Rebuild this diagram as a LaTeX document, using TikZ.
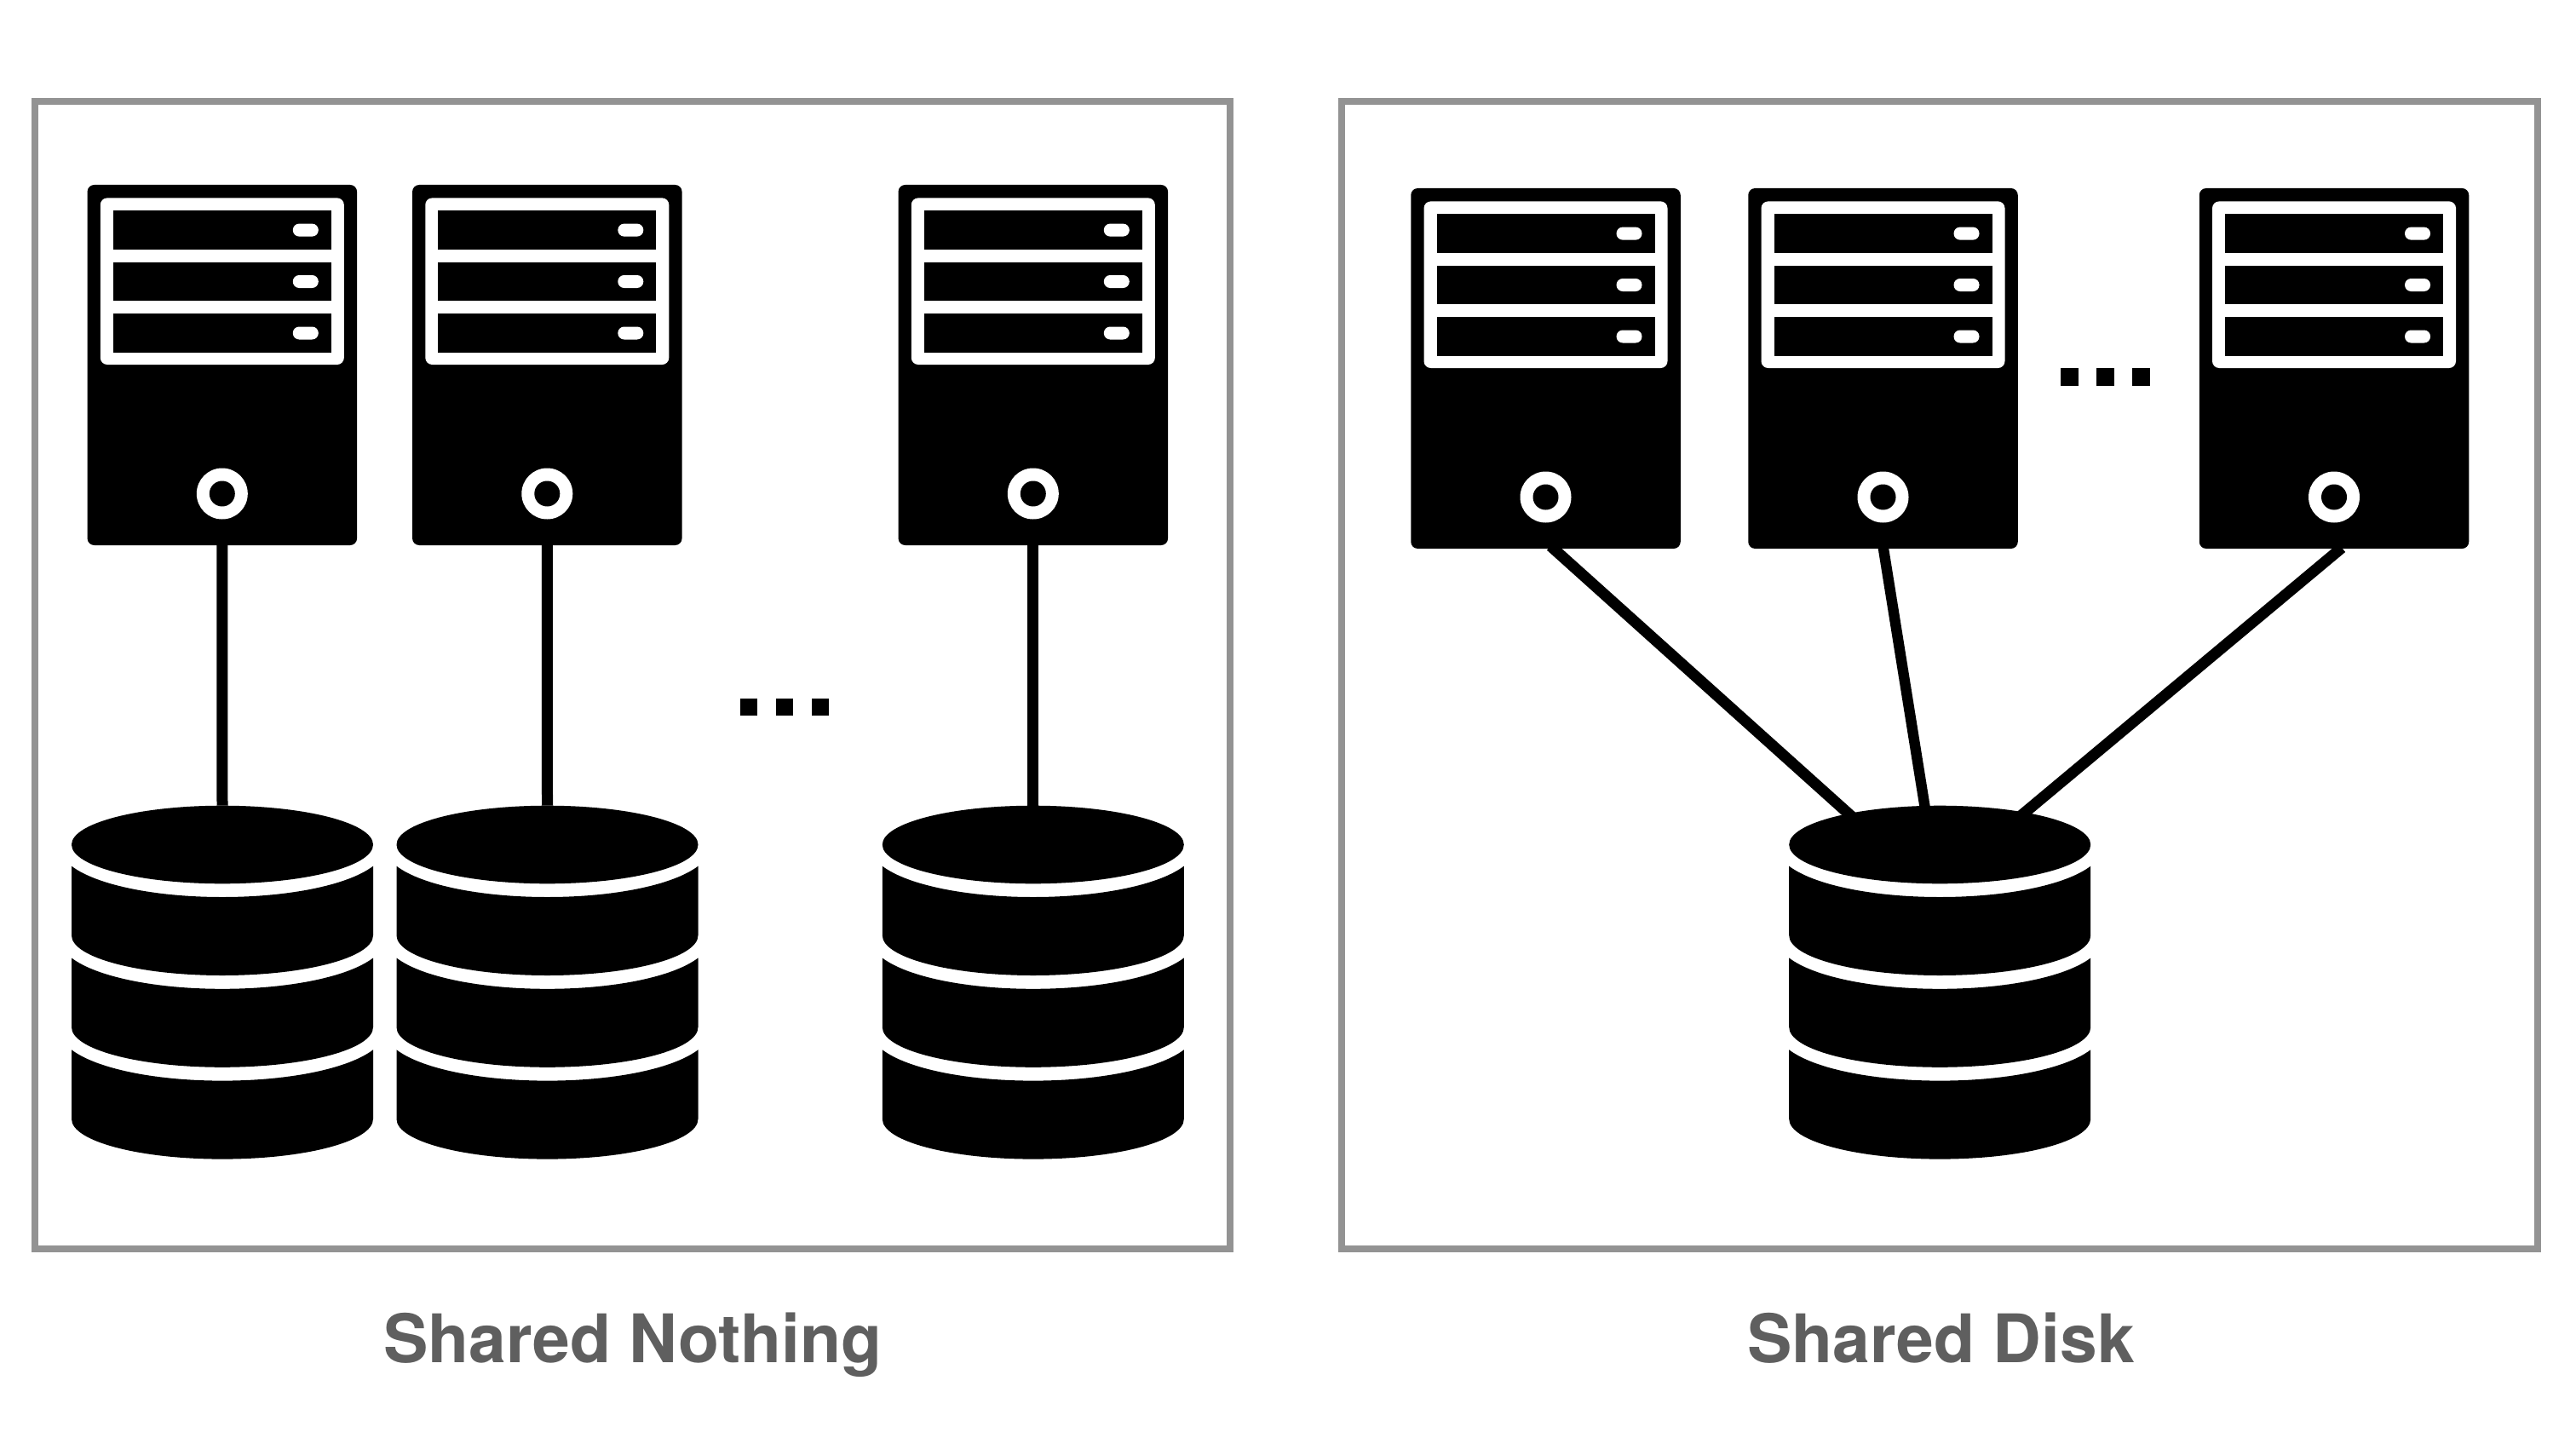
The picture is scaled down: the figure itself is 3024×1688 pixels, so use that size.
\documentclass[tikz,border=0pt]{standalone}
\usepackage{fontspec}
\setmainfont{TeX Gyre Heros}
\usetikzlibrary{calc,shapes.geometric}
\definecolor{framegray}{HTML}{939393}
\definecolor{titlegray}{HTML}{5F5F5F}
\newlength\pxu
\setlength\pxu{0.01cm}
\tikzset{
  frameline/.style={draw=framegray,line width=8\pxu,fill=none,inner sep=0pt,outer sep=0pt,minimum width=#1},
  serverbox/.style={fill=black,rounded corners=8\pxu,inner sep=0pt,outer sep=0pt,minimum width=316.5\pxu,minimum height=423\pxu},
  diskcap/.style={ellipse,fill=black,inner sep=0pt,outer sep=0pt,minimum width=354\pxu,minimum height=91.6\pxu},
  dotsquare/.style={fill=black,inner sep=0pt,outer sep=0pt,minimum size=20.7\pxu},
  link/.style={black,line width=13\pxu},
  thinlink/.style={black,line width=12.4\pxu},
  title/.style={text=titlegray,inner sep=0pt,outer sep=0pt,anchor=base,font=\fontsize{22.35pt}{27pt}\selectfont\bfseries}
}
% server: name, centre x, top y
\newcommand\serverat[3]{%
  \node[serverbox] (#1) at (#2,#3+211.5) {};
  \begin{scope}[shift={(#2,#3)}]
    \fill[white,rounded corners=8\pxu] (-143,15.4) rectangle (143,211);
    \foreach \ys/\ye/\yc in {30.3/75.5/53.1,90.8/136/113.5,151.3/196.8/174}{
      \fill[black] (-128,\ys) rectangle (128,\ye);
      \fill[white,rounded corners=7.4\pxu] (83,\yc-7.5) rectangle (113,\yc+7.5);
    }
    \fill[white] (0,362.5) circle[radius=30];
    \fill[black] (0,362.5) circle[radius=15];
  \end{scope}
}
% one slab of the cylinder: top edge y
\newcommand\slabat[2]{%
  \fill[black,shift={(#1,#2)}] (-177,0) -- (-177,81.3)
    .. controls (-177,107.3) and (-97.8,128.3) .. (0,128.3)
    .. controls (97.8,128.3) and (177,107.3) .. (177,81.3)
    -- (177,0)
    .. controls (147,22.6) and (77.3,36.3) .. (0,36.3)
    .. controls (-77.3,36.3) and (-147,22.6) .. (-177,0) -- cycle;
}
% disk stack: name, centre x
\newcommand\diskat[2]{%
  \node[diskcap] (#1) at (#2,991.5) {};
  \slabat{#2}{1016.7}
  \slabat{#2}{1124.5}
  \slabat{#2}{1232.3}
}
\begin{document}
\begin{tikzpicture}[x=0.01cm,y=-0.01cm]
  \useasboundingbox (0,0) rectangle (3024,1688);
  \fill[white] (0,0) rectangle (3024,1688);

  \node[frameline=1403\pxu,minimum height=1347\pxu] (frameL) at (742.5,792.5) {};
  \node[frameline=1404\pxu,minimum height=1347\pxu] (frameR) at (2277,792.5) {};

  \serverat{s1}{260.8}{217}
  \serverat{s2}{642.3}{217}
  \serverat{s3}{1212.8}{217}
  \serverat{s4}{1814.5}{221}
  \serverat{s5}{2210.5}{221}
  \serverat{s6}{2740}{221}

  \diskat{d1}{261}
  \diskat{d2}{642.5}
  \diskat{d3}{1212.8}
  \diskat{d4}{2277.2}

  \draw[link] (s1.south) -- (d1.north);
  \draw[link] (s2.south) -- (d2.north);
  \draw[link] (s3.south) -- (d3.north);

  \draw[link] ($(s4.south)+(5.8,-3)$) -- ($(d4.center)+(-96.2,-26.5)$);
  \draw[thinlink] ($(s5.south)+(0,-3)$) -- ($(d4.center)+(-16.2,-35.5)$);
  \draw[link] ($(s6.south)+(9,-1)$) -- ($(d4.center)+(88.3,-28.2)$);

  \node[dotsquare] (dotL1) at (879,830) {};
  \node[dotsquare] (dotL2) at (921,830) {};
  \node[dotsquare] (dotL3) at (963,830) {};
  \node[dotsquare] (dotR1) at (2429.3,442.7) {};
  \node[dotsquare] (dotR2) at (2471.3,442.7) {};
  \node[dotsquare] (dotR3) at (2513.3,442.7) {};

  \node[title] (titleL) at (743,1599) {Shared Nothing};
  \node[title] (titleR) at (2278.5,1599) {Shared Disk};
\end{tikzpicture}
\end{document}
